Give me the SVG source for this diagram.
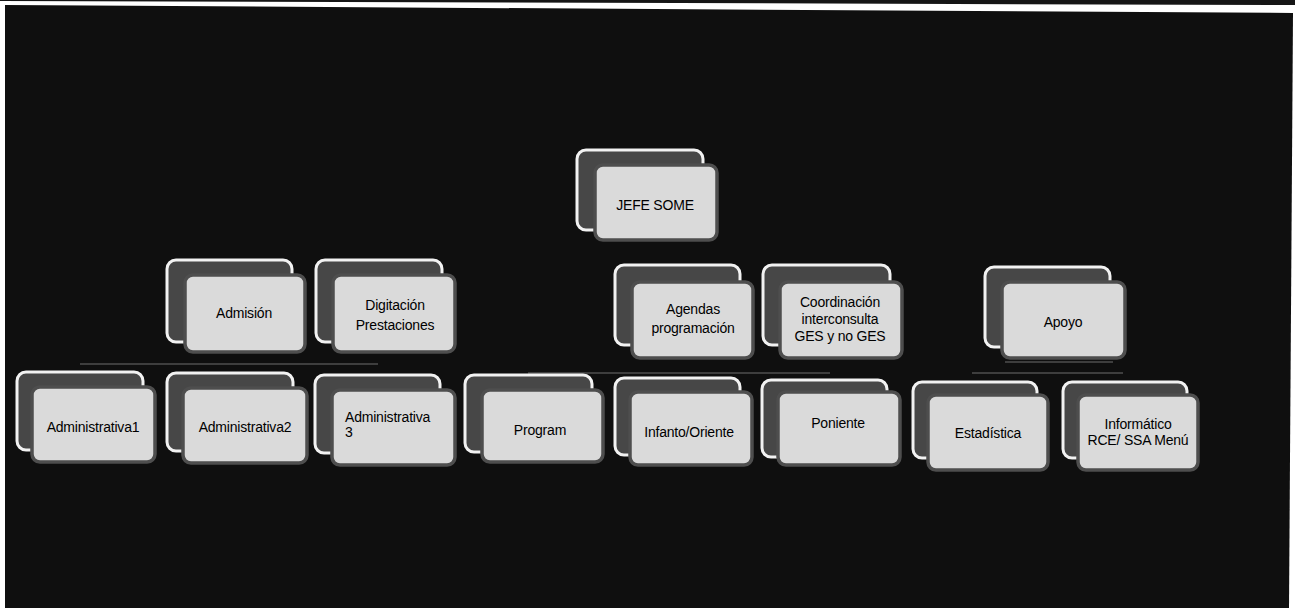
<svg xmlns="http://www.w3.org/2000/svg" width="1304" height="614" viewBox="0 0 1304 614">
<style>
.back{fill:#474747;stroke:#f2f2f2;stroke-width:3}
.front{fill:#dadada;stroke:#4e4e4e;stroke-width:3.5}
.t{font-family:"Liberation Sans",Arial,sans-serif;font-size:14px;letter-spacing:-0.2px;fill:#000;text-anchor:middle}
.tl{font-family:"Liberation Sans",Arial,sans-serif;font-size:14px;letter-spacing:-0.2px;fill:#000}
.c{stroke:#6a6a6a;stroke-width:1.5;fill:none;opacity:0.7}
</style>
<rect x="0" y="0" width="1304" height="614" fill="#ffffff"/>
<polygon points="0,0 1295,0 1295,5 0,1" fill="#151515"/>
<polygon points="5,5 1293,13 1289,608 5,608" fill="#0f0f0f"/>
<g id="connectors">
<line class="c" x1="80" y1="364" x2="378" y2="364"/>
<line class="c" x1="528" y1="373" x2="830" y2="373"/>
<line class="c" x1="1005" y1="362" x2="1113" y2="362"/>
<line class="c" x1="972" y1="373" x2="1123" y2="373"/>
</g>
<g id="jefe-some">
<rect class="back" x="577" y="150" width="126" height="80" rx="9"/>
<rect class="front" x="595" y="165" width="122" height="75" rx="8"/>
<text class="t" x="655" y="210">JEFE SOME</text>
</g>
<g id="admision">
<rect class="back" x="167" y="260" width="125" height="82" rx="9"/>
<rect class="front" x="185" y="275" width="120" height="77" rx="8"/>
<text class="t" x="244" y="318">Admisión</text>
</g>
<g id="digitacion">
<rect class="back" x="316" y="260" width="126" height="82" rx="9"/>
<rect class="front" x="333" y="275" width="122" height="77" rx="8"/>
<text class="t" x="395" y="310">Digitación</text>
<text class="t" x="395" y="330">Prestaciones</text>
</g>
<g id="agendas">
<rect class="back" x="615" y="265" width="125" height="80" rx="9"/>
<rect class="front" x="632" y="282" width="121" height="76" rx="8"/>
<text class="t" x="693" y="314">Agendas</text>
<text class="t" x="693" y="333">programación</text>
</g>
<g id="coordinacion">
<rect class="back" x="763" y="265" width="127" height="80" rx="9"/>
<rect class="front" x="780" y="282" width="122" height="76" rx="8"/>
<text class="t" x="840" y="307">Coordinación</text>
<text class="t" x="840" y="324">interconsulta</text>
<text class="t" x="840" y="341">GES y no GES</text>
</g>
<g id="apoyo">
<rect class="back" x="985" y="267" width="125" height="80" rx="9"/>
<rect class="front" x="1002" y="282" width="123" height="76" rx="8"/>
<text class="t" x="1063" y="327">Apoyo</text>
</g>
<g id="administrativa1">
<rect class="back" x="17" y="372" width="126" height="78" rx="9"/>
<rect class="front" x="32" y="387" width="123" height="75" rx="8"/>
<text class="t" x="93" y="432">Administrativa1</text>
</g>
<g id="administrativa2">
<rect class="back" x="167" y="373" width="126" height="78" rx="9"/>
<rect class="front" x="183" y="388" width="124" height="75" rx="8"/>
<text class="t" x="245" y="432">Administrativa2</text>
</g>
<g id="administrativa3">
<rect class="back" x="315" y="375" width="125" height="78" rx="9"/>
<rect class="front" x="332" y="390" width="123" height="75" rx="8"/>
<text class="tl" x="345" y="422">Administrativa</text>
<text class="tl" x="345" y="437">3</text>
</g>
<g id="program">
<rect class="back" x="465" y="375" width="127" height="77" rx="9"/>
<rect class="front" x="482" y="390" width="121" height="72" rx="8"/>
<text class="t" x="540" y="435">Program</text>
</g>
<g id="infanto-oriente">
<rect class="back" x="615" y="378" width="125" height="77" rx="9"/>
<rect class="front" x="630" y="392" width="122" height="73" rx="8"/>
<text class="t" x="689" y="437">Infanto/Oriente</text>
</g>
<g id="poniente">
<rect class="back" x="762" y="380" width="125" height="77" rx="9"/>
<rect class="front" x="778" y="392" width="122" height="73" rx="8"/>
<text class="t" x="838" y="428">Poniente</text>
</g>
<g id="estadistica">
<rect class="back" x="913" y="382" width="124" height="76" rx="9"/>
<rect class="front" x="928" y="395" width="120" height="75" rx="8"/>
<text class="t" x="988" y="438">Estadística</text>
</g>
<g id="informatico">
<rect class="back" x="1063" y="382" width="124" height="76" rx="9"/>
<rect class="front" x="1078" y="395" width="120" height="75" rx="8"/>
<text class="t" x="1138" y="429">Informático</text>
<text class="t" x="1138" y="445">RCE/ SSA Menú</text>
</g>
</svg>
